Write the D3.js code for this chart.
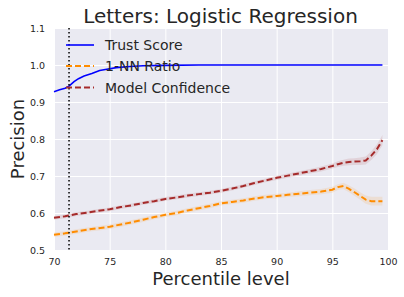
<!DOCTYPE html>
<html><head><meta charset="utf-8">
<script src="https://cdn.jsdelivr.net/npm/d3@7"></script>
<style>body{margin:0;background:#fff}svg{display:block}text{font-family:"DejaVu Sans",sans-serif;fill:#262626}</style>
</head><body><svg id="c" width="404" height="297"></svg>
<script>
const title = "Letters: Logistic Regression";
const xLabel = "Percentile level";
const yLabel = "Precision";
const xTicks = [70, 75, 80, 85, 90, 95, 100];
const yTicks = [0.5, 0.6, 0.7, 0.8, 0.9, 1.0, 1.1];
const seriesNames = ["Trust Score", "1-NN Ratio", "Model Confidence"];
const cutoff = 71.35;

const trustX = [70, 70.5, 71, 71.35, 71.8, 72.2, 72.7, 73.4, 74.1, 75, 75.6, 76.8, 78, 80, 83, 90, 95, 99.5];
const trustY = [0.928, 0.933, 0.937, 0.943, 0.955, 0.963, 0.970, 0.977, 0.985, 0.990, 0.993, 0.996, 0.998, 0.999, 1.0, 1.0, 1.0, 1.0];

const percentiles = [70, 71, 72, 73, 74, 75, 76, 77, 78, 79, 80, 81, 82, 83, 84, 85, 86, 87, 88, 89, 90, 91, 92, 93, 94, 95, 95.5, 96, 96.5, 97, 97.5, 98, 98.5, 99, 99.5];
const nnRatio = [0.541, 0.545, 0.550, 0.555, 0.559, 0.563, 0.569, 0.575, 0.582, 0.589, 0.595, 0.600, 0.607, 0.613, 0.619, 0.626, 0.630, 0.634, 0.639, 0.643, 0.646, 0.649, 0.652, 0.655, 0.658, 0.663, 0.670, 0.673, 0.665, 0.656, 0.646, 0.636, 0.632, 0.632, 0.632];
const nnBand = [0.006, 0.006, 0.006, 0.006, 0.006, 0.006, 0.006, 0.006, 0.006, 0.006, 0.006, 0.006, 0.006, 0.006, 0.006, 0.006, 0.006, 0.006, 0.006, 0.006, 0.006, 0.006, 0.007, 0.007, 0.007, 0.008, 0.008, 0.009, 0.009, 0.010, 0.010, 0.011, 0.012, 0.012, 0.012];
const modelConf = [0.587, 0.591, 0.597, 0.601, 0.606, 0.610, 0.616, 0.621, 0.627, 0.632, 0.638, 0.642, 0.647, 0.651, 0.655, 0.660, 0.666, 0.673, 0.681, 0.688, 0.695, 0.701, 0.707, 0.713, 0.719, 0.727, 0.732, 0.736, 0.738, 0.739, 0.740, 0.742, 0.755, 0.772, 0.797];
const mcBand = [0.005, 0.005, 0.005, 0.005, 0.005, 0.005, 0.005, 0.005, 0.005, 0.005, 0.005, 0.005, 0.005, 0.005, 0.005, 0.005, 0.005, 0.005, 0.005, 0.005, 0.006, 0.006, 0.006, 0.006, 0.007, 0.007, 0.008, 0.008, 0.009, 0.009, 0.010, 0.011, 0.012, 0.013, 0.014];

const colors = ["#0000ff", "#ff8c00", "#a52a2a"];

const svg = d3.select("#c");
const L = 54, R = 388, T = 28, B = 250;
const x = d3.scaleLinear().domain([70, 100]).range([L, R]);
const y = d3.scaleLinear().domain([0.5, 1.1]).range([B, T]);

svg.append("rect").attr("x", L).attr("y", T).attr("width", R - L).attr("height", B - T).attr("fill", "#eaeaf2");

const gx = svg.append("g").attr("transform", `translate(0,${B})`)
  .call(d3.axisBottom(x).tickValues(xTicks).tickSize(-(B - T)).tickPadding(8).tickFormat(d3.format("d")));
const gy = svg.append("g").attr("transform", `translate(${L},0)`)
  .call(d3.axisLeft(y).tickValues(yTicks).tickSize(-(R - L)).tickPadding(9).tickFormat(d3.format(".1f")));
[gx, gy].forEach(g => {
  g.select(".domain").remove();
  g.selectAll(".tick line").attr("stroke", "#fff").attr("stroke-width", 1);
  g.selectAll(".tick text").style("font-size", "9.5px").style("fill", "#262626").style("font-family", "DejaVu Sans");
});

const plot = svg.append("g");
const area = (vals, band) => d3.area().x((d, i) => x(percentiles[i])).y0((d, i) => y(vals[i] - band[i])).y1((d, i) => y(vals[i] + band[i]));
plot.append("path").datum(nnRatio).attr("d", area(nnRatio, nnBand)).attr("fill", colors[1]).attr("opacity", 0.12);
plot.append("path").datum(modelConf).attr("d", area(modelConf, mcBand)).attr("fill", colors[2]).attr("opacity", 0.12);

const line = vals => d3.line().x((d, i) => x(percentiles[i])).y((d, i) => y(vals[i]));
plot.append("path").datum(nnRatio).attr("d", line(nnRatio)).attr("fill", "none").attr("stroke", colors[1]).attr("stroke-width", 2).attr("stroke-dasharray", "6,3");
plot.append("path").datum(modelConf).attr("d", line(modelConf)).attr("fill", "none").attr("stroke", colors[2]).attr("stroke-width", 2).attr("stroke-dasharray", "6,3");
plot.append("path").datum(trustY).attr("d", d3.line().x((d, i) => x(trustX[i])).y(d => y(d))).attr("fill", "none").attr("stroke", colors[0]).attr("stroke-width", 1.6);

plot.append("line").attr("x1", x(cutoff)).attr("x2", x(cutoff)).attr("y1", T).attr("y2", B)
  .attr("stroke", "#000").attr("stroke-width", 1.5).attr("stroke-dasharray", "1.5,2.5");

// legend
const lg = svg.append("g");
const ly = [45, 66, 87.5];
seriesNames.forEach((n, i) => {
  lg.append("line").attr("x1", 66).attr("x2", 94).attr("y1", ly[i]).attr("y2", ly[i])
    .attr("stroke", colors[i]).attr("stroke-width", i === 0 ? 1.6 : 2).attr("stroke-dasharray", i === 0 ? null : "6,3");
  lg.append("text").attr("x", 105).attr("y", ly[i]).attr("dy", "0.36em").style("font-size", "14px").text(n);
});

svg.append("text").attr("x", (L + R) / 2 - 0.5).attr("y", 23).attr("text-anchor", "middle").style("font-size", "20px").text(title);
svg.append("text").attr("x", (L + R) / 2).attr("y", 285).attr("text-anchor", "middle").style("font-size", "18px").text(xLabel);
svg.append("text").attr("transform", `translate(24,${(T + B) / 2}) rotate(-90)`).attr("text-anchor", "middle").style("font-size", "18px").text(yLabel);
</script></body></html>
